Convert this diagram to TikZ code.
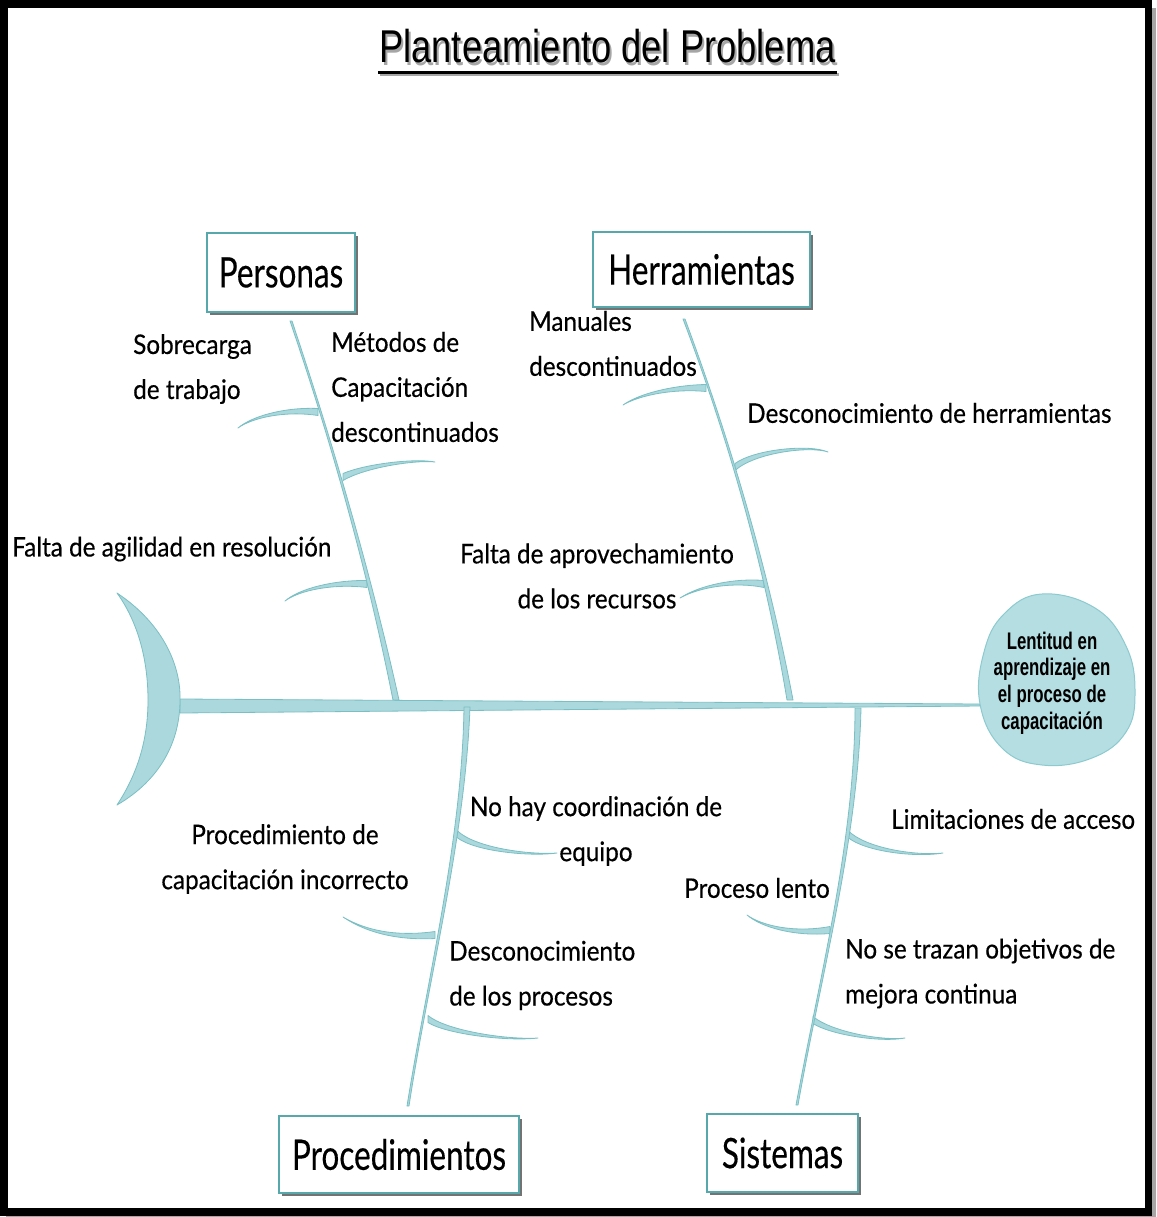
\documentclass[tikz,border=0pt]{standalone}
\usepackage{fontspec}
\usetikzlibrary{calc}
\setmainfont{Lato}
\newfontfamily\lblfont[FakeStretch=0.9,FakeBold=0.4]{Lato}
\newfontfamily\boxfont[FakeStretch=0.75,FakeBold=0.3]{Lato}
\newfontfamily\titlefont[FakeStretch=0.79]{Liberation Sans}
\newfontfamily\headfont[FakeStretch=0.7]{Liberation Sans}

\definecolor{bonefill}{RGB}{170,216,220}
\definecolor{boneedge}{RGB}{122,191,196}
\definecolor{boxedge}{RGB}{86,168,172}
\definecolor{headfill}{RGB}{180,222,225}
\definecolor{headedge}{RGB}{140,202,207}

\tikzset{
  bone/.style={fill=bonefill, draw=boneedge, line width=0.8pt, line join=round},
  catbox/.style={draw=boxedge, line width=2pt, fill=white, inner sep=0pt,
    font=\boxfont\fontsize{42}{46}\selectfont},
  boxshadow/.style={fill=black!55},
  lbl/.style={inner sep=0pt, font=\lblfont\fontsize{27}{45}\selectfont},
}

% small bone: tip, control near tip, control near join, join, half width at join
\newcommand\fbtwig[5]{%
  \path[bone] (#1) .. controls (#2) and (#3) .. ($(#4)+(0,-#5)$)
    -- ($(#4)+(0,#5)$) .. controls ($(#3)+(0,#5)$) and ($(#2)+(0,0.5*#5)$) .. (#1) -- cycle;}

% main bone: thin end, control near thin end, control near spine, spine end,
% half width at spine, half width at thin end
\newcommand\fbbone[6]{%
  \path[bone] ($(#1)+(-#6,0)$) .. controls (#2) and (#3) .. ($(#4)+(-#5,0)$)
    -- ($(#4)+(#5,0)$) .. controls ($(#3)+(#5,0)$) and ($(#2)+(#6,0)$) .. ($(#1)+(#6,0)$) -- cycle;}

\begin{document}
\begin{tikzpicture}[x=1pt,y=-1pt]
\useasboundingbox (0,0) rectangle (1156,1217);
\fill[white] (0,0) rectangle (1156,1217);

% outer frame with a faint shadow
\fill[black!35] (1151,8) rectangle (1156,1217);
\fill[black!35] (6,1215) rectangle (1156,1217);
\draw[line width=7.5pt] (3.75,4) rectangle (1148.25,1212);

% title with its soft shadow
\node[anchor=base, inner sep=0, text=black!35] (titleshadow) at (609.5,65.5)
  {\titlefont\fontsize{46}{50}\selectfont Planteamiento del Problema};
\fill[black!35] (380,73.5) rectangle (839,76.5);
\node[anchor=base, inner sep=0] (title) at (607.5,63)
  {\titlefont\fontsize{46}{50}\selectfont Planteamiento del Problema};
\fill[black] (378,71) rectangle (837,74);

% anchor points of the skeleton
\coordinate (tailR) at (180,706);
\coordinate (headL) at (980,705);
\coordinate (persTop) at (291,321);
\coordinate (persEnd) at (396,700);
\coordinate (herrTop) at (684,319);
\coordinate (herrEnd) at (790,700);
\coordinate (procEnd) at (467,707);
\coordinate (procBot) at (408,1106);
\coordinate (sistEnd) at (858,708);
\coordinate (sistBot) at (797,1105);

% spine
\path[bone] (180,699) -- (980,704) -- (980,706) -- (180,713) -- cycle;

% tail
\path[bone] (117,593) .. controls (165,625) and (181,668) .. (180,700)
  .. controls (180,742) and (160,780) .. (117,805)
  .. controls (140,770) and (148,735) .. (148,700)
  .. controls (148,660) and (138,622) .. (117,593) -- cycle;

% head
\path[fill=headfill, draw=headedge, line width=1pt] plot[smooth cycle, tension=0.7] coordinates
  {(1042,594) (1095,608) (1126,646) (1135,692) (1126,732) (1092,758) (1042,765)
   (1002,748) (980,704) (984,652) (1004,614)};
\node[align=center, inner sep=0, font=\headfont\bfseries\fontsize{24}{26.7}\selectfont]
  (head) at (1052,683) {Lentitud en\\aprendizaje en\\el proceso de\\capacitación};

% small bones
\fbtwig{238,428}{252,416}{285,407}{318,412}{3.5}
\fbtwig{435,462}{415,458}{365,464}{343,477}{3.5}
\fbtwig{285,601}{300,588}{335,580}{367,584}{3.5}
\fbtwig{623,405}{640,393}{675,385}{706,388}{3.5}
\fbtwig{828,452}{810,444}{755,449}{735,467}{3.5}
\fbtwig{680,598}{700,585}{735,578}{764,584}{3.5}
\fbtwig{557,853}{530,855}{475,848}{457,834}{3.5}
\fbtwig{343,917}{365,930}{395,937}{435,935}{3.5}
\fbtwig{538,1038}{505,1040}{445,1030}{428,1019}{3.5}
\fbtwig{943,853}{915,856}{865,848}{848,834}{3.5}
\fbtwig{747,915}{762,926}{795,933}{830,930}{3.5}
\fbtwig{905,1038}{880,1041}{830,1031}{813,1020}{3.5}

% main bones
\fbbone{persTop}{333,447}{368,574}{persEnd}{3}{1}
\fbbone{herrTop}{731,446}{766,573}{herrEnd}{3}{1}
\fbbone{procBot}{428,975}{462,840}{procEnd}{3}{1}
\fbbone{sistBot}{820,975}{855,840}{sistEnd}{3}{1}

% category boxes
\fill[boxshadow] (210,236) rectangle (358,315);
\node[catbox, minimum width=148, minimum height=79] (pers) at (281,272.5) {Personas};
\fill[boxshadow] (596,235) rectangle (813,310);
\node[catbox, minimum width=217, minimum height=75] (herr) at (701.5,269.5) {Herramientas};
\fill[boxshadow] (282,1119) rectangle (522,1196);
\node[catbox, minimum width=240, minimum height=77] (proc) at (399,1154.5) {Procedimientos};
\fill[boxshadow] (710,1117) rectangle (861,1195);
\node[catbox, minimum width=151, minimum height=78] (sist) at (782.5,1153) {Sistemas};

% cause labels
\node[lbl, anchor=west, align=left] (l1) at (133,369) {Sobrecarga\\de trabajo};
\node[lbl, anchor=west, align=left] (l2) at (331,387) {Métodos de\\Capacitación\\descontinuados};
\node[lbl, anchor=west] (l3) at (12,549) {Falta de agilidad en resolución};
\node[lbl, anchor=west, align=left] (l4) at (529,343.5) {Manuales\\descontinuados};
\node[lbl, anchor=west] (l5) at (747,413) {Desconocimiento de herramientas};
\node[lbl, align=center] (l6) at (597,576) {Falta de aprovechamiento\\de los recursos};
\node[lbl, align=center] (l7) at (596,831) {No hay coordinación de\\equipo};
\node[lbl, align=center] (l8) at (285,859) {Procedimiento de\\capacitación incorrecto};
\node[lbl, anchor=west, align=left] (l9) at (449,975.5) {Desconocimiento\\de los procesos};
\node[lbl, anchor=west] (l10) at (891,819) {Limitaciones de acceso};
\node[lbl, anchor=west] (l11) at (684,888) {Proceso lento};
\node[lbl, anchor=west, align=left] (l12) at (845,973.5) {No se trazan objetivos de\\mejora continua};
\end{tikzpicture}
\end{document}
